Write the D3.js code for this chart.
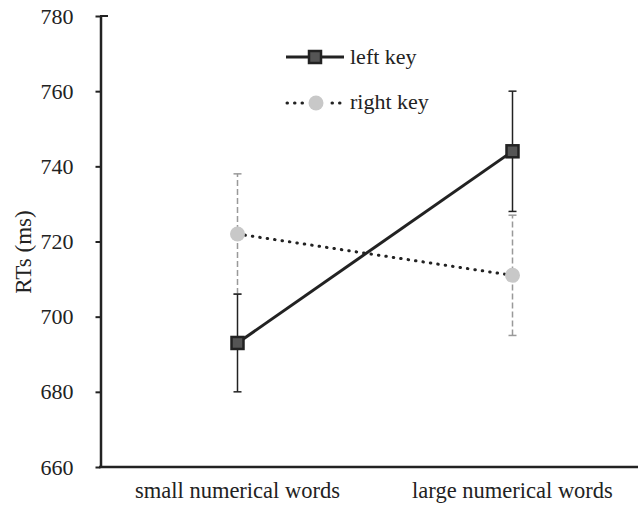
<!DOCTYPE html>
<html>
<head>
<meta charset="utf-8">
<script src="https://cdn.jsdelivr.net/npm/d3@7"></script>
</head>
<body style="margin:0; background:#fff">
<div id="chart"></div>
<script>
"use strict";

// categories on the x axis
const categories = ["small numerical words", "large numerical words"];

// mean RTs per series
const leftKey = [693, 744];
const rightKey = [722, 711];

// error bar half-widths
const leftErr = [13, 16];
const rightErr = [16, 16];

// y ticks
const yTicks = [660, 680, 700, 720, 740, 760, 780];

const width = 638, height = 507;
const fontName = "Liberation Serif";

const svg = d3.select("#chart").append("svg")
    .attr("width", width)
    .attr("height", height)
    .attr("font-family", fontName);

// scales
const x = d3.scaleBand()
    .domain(categories)
    .range([100, 650]);

const y = d3.scaleLinear()
    .domain([660, 780])
    .range([467, 16]);

const cx = d => x(d) + x.bandwidth() / 2;

// y axis
const yAxis = d3.axisLeft(y)
    .tickValues(yTicks)
    .tickSize(5)
    .tickPadding(22)
    .tickSizeOuter(0);

const gy = svg.append("g")
    .attr("transform", "translate(100.5,0)")
    .call(yAxis)
    .attr("font-family", fontName)
    .attr("font-size", 22);
gy.select(".domain").attr("stroke", "#222").attr("stroke-width", 2.5);
gy.selectAll(".tick line").attr("stroke", "#222").attr("stroke-width", 2);
gy.selectAll(".tick text")
    .attr("font-family", fontName)
    .style("font-family", fontName)
    .attr("font-size", 22)
    .attr("fill", "#222");

// small inward tick at the top
svg.append("line")
    .attr("x1", 100).attr("x2", 108)
    .attr("y1", y(780)).attr("y2", y(780))
    .attr("stroke", "#222").attr("stroke-width", 2);

// x axis line
svg.append("line")
    .attr("x1", 99).attr("x2", width)
    .attr("y1", y(660)).attr("y2", y(660))
    .attr("stroke", "#222").attr("stroke-width", 2.5);

// helper for serif text
function label(sel, size) {
    return sel.attr("fill", "#222")
        .attr("font-family", fontName)
        .style("font-family", fontName)
        .attr("font-size", size);
}

// x labels
svg.append("g").selectAll("text")
    .data(categories)
    .enter().append("text")
    .attr("x", d => cx(d))
    .attr("y", 498)
    .attr("text-anchor", "middle")
    .call(label, 22.5)
    .text(d => d);

// y label
svg.append("text")
    .attr("transform", "translate(31,252) rotate(-90)")
    .attr("text-anchor", "middle")
    .call(label, 23)
    .text("RTs (ms)");

// error bars
function errorBars(values, errs, color, dash) {
    const g = svg.append("g");
    values.forEach((v, i) => {
        const px = cx(categories[i]);
        g.append("line")
            .attr("x1", px).attr("x2", px)
            .attr("y1", y(v - errs[i])).attr("y2", y(v + errs[i]))
            .attr("stroke", color).attr("stroke-width", 1.5)
            .attr("stroke-dasharray", dash);
        [v - errs[i], v + errs[i]].forEach(e => {
            g.append("line")
                .attr("x1", px - 4).attr("x2", px + 4)
                .attr("y1", y(e)).attr("y2", y(e))
                .attr("stroke", color).attr("stroke-width", 1.5);
        });
    });
}
errorBars(rightKey, rightErr, "#999", "6,3");
errorBars(leftKey, leftErr, "#222", null);

// lines
const line = d3.line()
    .x((d, i) => cx(categories[i]))
    .y(d => y(d));

svg.append("path")
    .datum(rightKey)
    .attr("d", line)
    .attr("fill", "none")
    .attr("stroke", "#222")
    .attr("stroke-width", 3)
    .attr("stroke-linecap", "round")
    .attr("stroke-dasharray", "0.5,7");

svg.append("path")
    .datum(leftKey)
    .attr("d", line)
    .attr("fill", "none")
    .attr("stroke", "#222")
    .attr("stroke-width", 3);

// markers
svg.append("g").selectAll("circle")
    .data(rightKey)
    .enter().append("circle")
    .attr("cx", (d, i) => cx(categories[i]))
    .attr("cy", d => y(d))
    .attr("r", 7.5)
    .attr("fill", "#c8c8c8");

svg.append("g").selectAll("rect")
    .data(leftKey)
    .enter().append("rect")
    .attr("x", (d, i) => cx(categories[i]) - 6)
    .attr("y", d => y(d) - 6)
    .attr("width", 12)
    .attr("height", 12)
    .attr("fill", "#555")
    .attr("stroke", "#222")
    .attr("stroke-width", 2.5);

// legend
const legend = svg.append("g");
legend.append("line")
    .attr("x1", 286).attr("x2", 344)
    .attr("y1", 57).attr("y2", 57)
    .attr("stroke", "#222").attr("stroke-width", 3);
legend.append("rect")
    .attr("x", 309).attr("y", 51)
    .attr("width", 12).attr("height", 12)
    .attr("fill", "#555").attr("stroke", "#222").attr("stroke-width", 2.5);
legend.append("text")
    .attr("x", 350).attr("y", 64)
    .call(label, 22)
    .text("left key");

legend.append("line")
    .attr("x1", 287).attr("x2", 344)
    .attr("y1", 103).attr("y2", 103)
    .attr("stroke", "#222").attr("stroke-width", 3)
    .attr("stroke-linecap", "round")
    .attr("stroke-dasharray", "0.5,7");
legend.append("rect")
    .attr("x", 305).attr("y", 94)
    .attr("width", 22).attr("height", 18)
    .attr("fill", "#fff");
legend.append("circle")
    .attr("cx", 316).attr("cy", 103)
    .attr("r", 7.5)
    .attr("fill", "#c8c8c8");
legend.append("text")
    .attr("x", 350).attr("y", 109)
    .call(label, 22)
    .text("right key");
</script>
</body>
</html>
